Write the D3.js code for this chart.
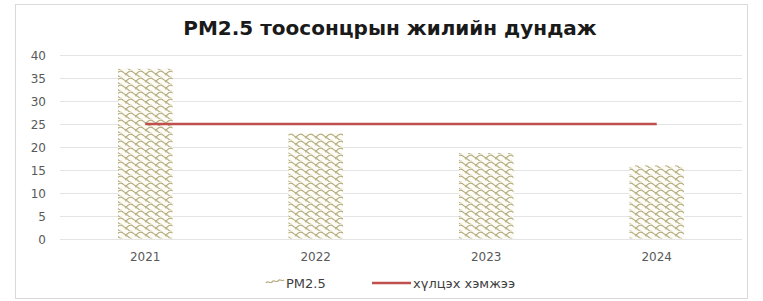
<!DOCTYPE html>
<html>
<head>
<meta charset="utf-8">
<script src="https://cdn.jsdelivr.net/npm/d3@7"></script>
<style>
  body { margin: 0; background: #fff; }
  text { font-family: "DejaVu Sans", Verdana, sans-serif; }
</style>
</head>
<body>
<div id="chart"></div>
<script>
const years = [`2021`, `2022`, `2023`, `2024`];
const pm25 = [37, 23, 18.7, 16];
const limit = [25, 25, 25, 25];
const yTicks = [0, 5, 10, 15, 20, 25, 30, 35, 40];

const width = 763, height = 301;
const margin = { top: 55, right: 21, bottom: 62, left: 60 };

const svg = d3.select(`#chart`).append(`svg`)
    .attr(`width`, width)
    .attr(`height`, height);

// scallop fill like the excel pattern
const pat = svg.append(`defs`).append(`pattern`)
    .attr(`id`, `wave`)
    .attr(`patternUnits`, `userSpaceOnUse`)
    .attr(`width`, 10)
    .attr(`height`, 7);
pat.append(`rect`).attr(`width`, 10).attr(`height`, 7).attr(`fill`, `#fdfcf6`);
pat.append(`path`)
    .attr(`d`, `M0,1.5 C2.5,-0.5 4,5 6.5,3.5 S9,1 10,1.5 M-5,5 C-2.5,3 -1,8.5 1.5,7 M5,5 C7.5,3 9,8.5 11.5,7`)
    .attr(`fill`, `none`)
    .attr(`stroke`, `#b4ab7c`)
    .attr(`stroke-width`, 1.1);

svg.append(`rect`)
    .attr(`x`, 15.5).attr(`y`, 4.5)
    .attr(`width`, 732).attr(`height`, 294)
    .attr(`fill`, `#fff`)
    .attr(`stroke`, `#d9d9d9`);

const x = d3.scaleBand()
    .domain(years)
    .range([margin.left, width - margin.right])
    .paddingInner(0.68)
    .paddingOuter(0.34);

const y = d3.scaleLinear()
    .domain([0, 40])
    .range([height - margin.bottom, margin.top]);

const center = (d) => x(d) + x.bandwidth() / 2;

svg.append(`g`)
    .selectAll(`line`)
    .data(yTicks)
  .enter().append(`line`)
    .attr(`x1`, margin.left)
    .attr(`x2`, width - margin.right)
    .attr(`y1`, (d) => y(d) + 0.5)
    .attr(`y2`, (d) => y(d) + 0.5)
    .attr(`stroke`, `#e4e4e4`);

svg.append(`g`)
    .selectAll(`text`)
    .data(yTicks)
  .enter().append(`text`)
    .attr(`x`, 46)
    .attr(`y`, (d) => y(d) + 4.5)
    .attr(`text-anchor`, `end`)
    .attr(`font-size`, 12)
    .attr(`fill`, `#595959`)
    .text((d) => d);

svg.append(`g`)
    .selectAll(`rect`)
    .data(pm25)
  .enter().append(`rect`)
    .attr(`x`, (d, i) => x(years[i]))
    .attr(`y`, (d) => y(d))
    .attr(`width`, x.bandwidth())
    .attr(`height`, (d) => y(0) - y(d))
    .attr(`fill`, `url(#wave)`);

const line = d3.line()
    .x((d, i) => center(years[i]))
    .y((d) => y(d));

svg.append(`path`)
    .datum(limit)
    .attr(`d`, line)
    .attr(`fill`, `none`)
    .attr(`stroke`, `#c0504d`)
    .attr(`stroke-width`, 2.5);

svg.append(`g`)
    .selectAll(`text`)
    .data(years)
  .enter().append(`text`)
    .attr(`x`, (d) => center(d))
    .attr(`y`, 261)
    .attr(`text-anchor`, `middle`)
    .attr(`font-size`, 12)
    .attr(`fill`, `#595959`)
    .text((d) => d);

svg.append(`text`)
    .attr(`x`, 390)
    .attr(`y`, 35)
    .attr(`text-anchor`, `middle`)
    .attr(`font-size`, 20)
    .attr(`font-weight`, `bold`)
    .attr(`fill`, `#1a1a1a`)
    .text(`PM2.5 тоосонцрын жилийн дундаж`);

// legend
const legend = svg.append(`g`).attr(`transform`, `translate(0,283)`);
legend.append(`path`)
    .attr(`d`, `M266,0 c2,-3 4,1 6,-1 c2,-3 4,1 6,-1 c2,-3 4,1 6,-1`)
    .attr(`fill`, `none`)
    .attr(`stroke`, `#b4ab7c`)
    .attr(`stroke-width`, 1.1);
legend.append(`text`)
    .attr(`x`, 286).attr(`y`, 0)
    .attr(`dy`, `0.35em`)
    .attr(`font-size`, 13)
    .attr(`fill`, `#404040`)
    .text(`PM2.5`);
legend.append(`line`)
    .attr(`x1`, 372).attr(`x2`, 411)
    .attr(`stroke`, `#c0504d`)
    .attr(`stroke-width`, 2.5);
legend.append(`text`)
    .attr(`x`, 413).attr(`y`, 0)
    .attr(`dy`, `0.35em`)
    .attr(`font-size`, 13)
    .attr(`fill`, `#404040`)
    .text(`хүлцэх хэмжээ`);
</script>
</body>
</html>
